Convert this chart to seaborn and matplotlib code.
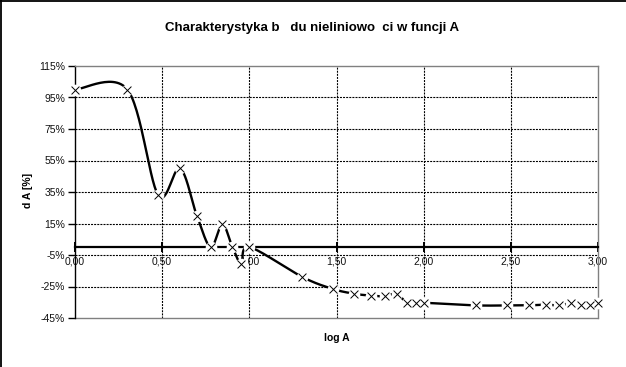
import numpy as np
import pandas as pd
import matplotlib
matplotlib.use("Agg")
import matplotlib.pyplot as plt
import seaborn as sns
from matplotlib.lines import Line2D

# ---- data ----
A_values = [1, 2, 3, 4, 5, 6, 7, 8, 9, 10,
            20, 30, 40, 50, 60, 70, 80, 90, 100,
            200, 300, 400, 500, 600, 700, 800, 900, 1000]
dA_percent = [100, 100, 33, 50, 20, 0, 14.5, 0, -10.5, 0,
              -18.8, -26.5, -29.6, -30.8, -31.2, -29.6, -35.3, -35.3, -35.3,
              -37, -37, -37, -36.5, -37, -35.5, -37, -37, -35.5]
x_ticks = [0.0, 0.5, 1.0, 1.5, 2.0, 2.5, 3.0]
x_tick_labels = ["0,00", "0,50", "1,00", "1,50", "2,00", "2,50", "3,00"]
y_ticks = [115, 95, 75, 55, 35, 15, -5, -25, -45]
y_tick_labels = ["115%", "95%", "75%", "55%", "35%", "15%", "-5%", "-25%", "-45%"]
title_text = "Charakterystyka b   du nieliniowo  ci w funcji A"
x_label = "log A"
y_label = "d A [%]"

sns.set_theme(style="white")
plt.rcParams["font.family"] = ["Liberation Sans", "DejaVu Sans"]

logA = np.log10(np.array(A_values, dtype=float))
dA = np.array(dA_percent, dtype=float)
df = pd.DataFrame({"logA": logA, "dA": dA})


def smooth_path(x, y, n=30):
    """Excel-like smoothed line (Catmull-Rom style Bezier) through the points."""
    px = np.concatenate([[x[0]], x, [x[-1]]])
    py = np.concatenate([[y[0]], y, [y[-1]]])
    xs, ys = [], []
    t = np.linspace(0, 1, n)
    for i in range(1, len(px) - 2):
        p0x, p0y = px[i], py[i]
        p3x, p3y = px[i + 1], py[i + 1]
        c1x = p0x + (px[i + 1] - px[i - 1]) / 6.0
        c1y = p0y + (py[i + 1] - py[i - 1]) / 6.0
        c2x = p3x - (px[i + 2] - px[i]) / 6.0
        c2y = p3y - (py[i + 2] - py[i]) / 6.0
        bx = ((1 - t) ** 3) * p0x + 3 * ((1 - t) ** 2) * t * c1x + 3 * (1 - t) * t ** 2 * c2x + t ** 3 * p3x
        by = ((1 - t) ** 3) * p0y + 3 * ((1 - t) ** 2) * t * c1y + 3 * (1 - t) * t ** 2 * c2y + t ** 3 * p3y
        xs.append(bx)
        ys.append(by)
    return np.concatenate(xs), np.concatenate(ys)


sx, sy = smooth_path(df["logA"].values, df["dA"].values)

fig = plt.figure(figsize=(6.26, 3.67), dpi=100)
fig.patch.set_facecolor("white")
ax = fig.add_axes([75 / 626, 1 - 318 / 367, 523 / 626, 252 / 367])
ax.set_facecolor("white")

# dotted grid
for xv in x_ticks[1:-1]:
    ax.axvline(xv, color="black", lw=0.8, ls=(0, (1.8, 1.0)), zorder=1)
for yv in y_ticks[1:-1]:
    ax.axhline(yv, color="black", lw=0.8, ls=(0, (1.8, 1.0)), zorder=1)

sns.lineplot(x=sx, y=sy, sort=False, estimator=None, color="black", lw=1.7, ax=ax, zorder=3)
sns.scatterplot(data=df, x="logA", y="dA", marker="o", s=70, color="white",
                linewidth=0, ax=ax, zorder=4, clip_on=False)
sns.scatterplot(data=df, x="logA", y="dA", marker="x", s=32, color="black",
                linewidth=0.7, ax=ax, zorder=5, clip_on=False)

ax.set_xlim(0, 3)
ax.set_ylim(-45, 115)
ax.set_xticks(x_ticks)
ax.set_xticklabels(x_tick_labels)
ax.set_yticks(y_ticks)
ax.set_yticklabels(y_tick_labels)
ax.set_xlabel("")
ax.set_ylabel("")

ax.spines["bottom"].set_position(("data", 0))
ax.spines["bottom"].set_linewidth(1.6)
ax.spines["bottom"].set_color("black")
ax.spines["bottom"].set_zorder(2.5)
ax.spines["left"].set_linewidth(1.0)
ax.spines["left"].set_color("black")
for s in ("top", "right"):
    ax.spines[s].set_color("#808080")
    ax.spines[s].set_linewidth(1.0)
ax.axhline(-45, color="#808080", lw=1.0, clip_on=False, zorder=2)

ax.tick_params(axis="y", direction="out", length=5, width=1, color="black",
               labelsize=7.5, labelcolor="#111111", pad=2, left=True)
ax.tick_params(axis="x", direction="inout", length=7, width=1.4, color="black",
               labelsize=7.5, labelcolor="#111111", pad=3, bottom=True)

fig.text(0.498, 1 - 28 / 367, title_text, ha="center", va="center",
         fontsize=9.5, fontweight="bold", color="black")
fig.text((75 + 598) / 2 / 626, 1 - 338 / 367, x_label, ha="center", va="center",
         fontsize=7.5, fontweight="bold", color="black")
fig.text(28 / 626, 1 - 190 / 367, y_label, ha="center", va="center", rotation=90,
         fontsize=7.5, fontweight="bold", color="black")

# outer frame lines (top and left)
fig.add_artist(Line2D([0, 1], [0.998, 0.998], transform=fig.transFigure, color="black", lw=1.3))
fig.add_artist(Line2D([0.0015, 0.0015], [0, 1], transform=fig.transFigure, color="black", lw=1.3))

fig.savefig("out.png", dpi=100, facecolor="white")
